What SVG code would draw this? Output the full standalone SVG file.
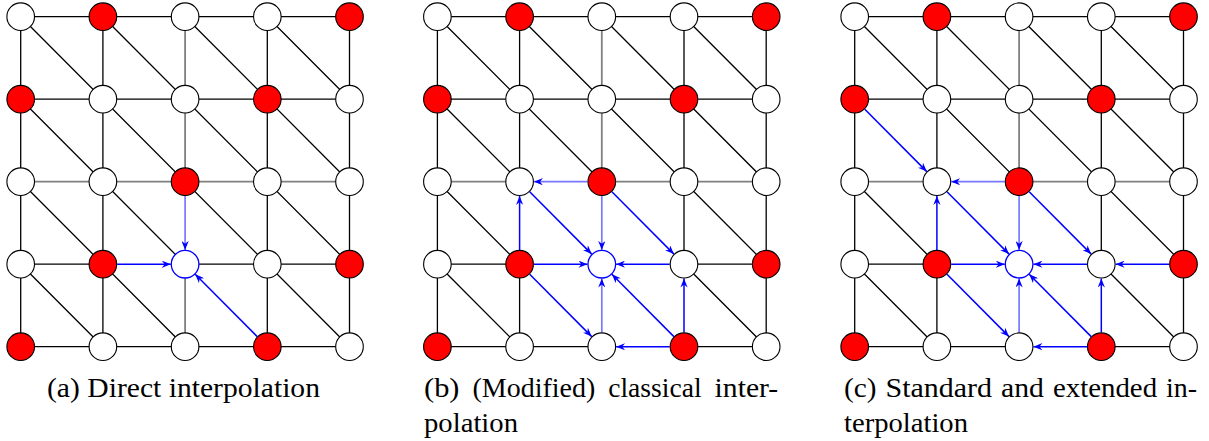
<svg xmlns="http://www.w3.org/2000/svg" width="1209" height="441" viewBox="0 0 1209 441">
<style>
.k{fill:none;stroke:#000;stroke-width:1.3}
.g{fill:none;stroke:#808080;stroke-width:1.8}
.ar{fill:none;stroke:#0000ff;stroke-width:1.5;marker-end:url(#ah)}
.al{fill:none;stroke:#7878ff;stroke-width:1.7;marker-end:url(#ah)}
.w{fill:#fff;stroke:#000;stroke-width:1.1}
.r{fill:#ff0000;stroke:#000;stroke-width:1.1}
.t{fill:#fff;stroke:#0000ff;stroke-width:1.3}
</style>
<defs>
<marker id="ah" viewBox="0 0 10 8" refX="10" refY="4" markerWidth="9.5" markerHeight="7.2" markerUnits="userSpaceOnUse" orient="auto">
<path d="M0,0 L10,4 L0,8 L3.2,4 z" fill="#0000ff"/>
</marker>
</defs>

<!-- Panel A -->
<g id="panelA" transform="translate(20.7,0)">
<g id="connectorsA">
<path class="k" d="M0,16.7H328.8 M0,99.2H328.8 M0,346.7H328.8 M0,264.2H82.2 M164.4,264.2H328.8 M0,16.7V346.7 M82.2,16.7V346.7 M246.6,16.7V346.7 M328.8,16.7V346.7 M0,16.7L328.8,346.7 M82.2,16.7L328.8,264.2 M164.4,16.7L328.8,181.7 M246.6,16.7L328.8,99.2 M0,99.2L164.4,264.2 M0,181.7L164.4,346.7 M0,264.2L82.2,346.7"/>
<path class="g" d="M0,181.7H328.8 M164.4,16.7V181.7 M164.4,264.2V346.7"/>
<line class="al" x1="164.4" y1="196" x2="164.4" y2="249.9"/>
<line class="ar" x1="96.5" y1="264.2" x2="150.1" y2="264.2"/>
<line class="ar" x1="236.5" y1="336.6" x2="174.5" y2="274.3"/>
</g>
<g id="a00"><circle class="w" cx="0" cy="16.7" r="13.8"/></g>
<g id="a01"><circle class="r" cx="82.2" cy="16.7" r="13.8"/></g>
<g id="a02"><circle class="w" cx="164.4" cy="16.7" r="13.8"/></g>
<g id="a03"><circle class="w" cx="246.6" cy="16.7" r="13.8"/></g>
<g id="a04"><circle class="r" cx="328.8" cy="16.7" r="13.8"/></g>
<g id="a10"><circle class="r" cx="0" cy="99.2" r="13.8"/></g>
<g id="a11"><circle class="w" cx="82.2" cy="99.2" r="13.8"/></g>
<g id="a12"><circle class="w" cx="164.4" cy="99.2" r="13.8"/></g>
<g id="a13"><circle class="r" cx="246.6" cy="99.2" r="13.8"/></g>
<g id="a14"><circle class="w" cx="328.8" cy="99.2" r="13.8"/></g>
<g id="a20"><circle class="w" cx="0" cy="181.7" r="13.8"/></g>
<g id="a21"><circle class="w" cx="82.2" cy="181.7" r="13.8"/></g>
<g id="a22"><circle class="r" cx="164.4" cy="181.7" r="13.8"/></g>
<g id="a23"><circle class="w" cx="246.6" cy="181.7" r="13.8"/></g>
<g id="a24"><circle class="w" cx="328.8" cy="181.7" r="13.8"/></g>
<g id="a30"><circle class="w" cx="0" cy="264.2" r="13.8"/></g>
<g id="a31"><circle class="r" cx="82.2" cy="264.2" r="13.8"/></g>
<g id="a32"><circle class="t" cx="164.4" cy="264.2" r="13.8"/></g>
<g id="a33"><circle class="w" cx="246.6" cy="264.2" r="13.8"/></g>
<g id="a34"><circle class="r" cx="328.8" cy="264.2" r="13.8"/></g>
<g id="a40"><circle class="r" cx="0" cy="346.7" r="13.8"/></g>
<g id="a41"><circle class="w" cx="82.2" cy="346.7" r="13.8"/></g>
<g id="a42"><circle class="w" cx="164.4" cy="346.7" r="13.8"/></g>
<g id="a43"><circle class="r" cx="246.6" cy="346.7" r="13.8"/></g>
<g id="a44"><circle class="w" cx="328.8" cy="346.7" r="13.8"/></g>
</g>

<!-- Panel B -->
<g id="panelB" transform="translate(437.4,0)">
<g id="connectorsB">
<path class="k" d="M0,16.7H328.8 M0,99.2H328.8 M0,264.2H82.2 M246.6,264.2H328.8 M0,346.7H164.4 M246.6,346.7H328.8 M0,16.7V346.7 M328.8,16.7V346.7 M82.2,16.7V181.7 M82.2,264.2V346.7 M246.6,16.7V264.2 M0,16.7L164.4,181.7 M246.6,264.2L328.8,346.7 M82.2,16.7L328.8,264.2 M164.4,16.7L328.8,181.7 M246.6,16.7L328.8,99.2 M0,99.2L82.2,181.7 M0,181.7L82.2,264.2 M0,264.2L82.2,346.7"/>
<path class="g" d="M0,181.7H82.2 M164.4,181.7H328.8 M164.4,16.7V181.7"/>
<line class="al" x1="164.4" y1="196" x2="164.4" y2="249.9"/>
<line class="al" x1="150.1" y1="181.7" x2="96.5" y2="181.7"/>
<line class="ar" x1="92.3" y1="191.8" x2="154.3" y2="254.1"/>
<line class="ar" x1="82.2" y1="249.9" x2="82.2" y2="196"/>
<line class="ar" x1="96.5" y1="264.2" x2="150.1" y2="264.2"/>
<line class="ar" x1="92.3" y1="274.3" x2="154.3" y2="336.6"/>
<line class="ar" x1="174.5" y1="191.8" x2="236.5" y2="254.1"/>
<line class="ar" x1="232.3" y1="264.2" x2="178.7" y2="264.2"/>
<line class="ar" x1="246.6" y1="332.4" x2="246.6" y2="278.5"/>
<line class="ar" x1="236.5" y1="336.6" x2="174.5" y2="274.3"/>
<line class="ar" x1="232.3" y1="346.7" x2="178.7" y2="346.7"/>
<line class="al" x1="164.4" y1="332.4" x2="164.4" y2="278.5"/>
</g>
<g id="b00"><circle class="w" cx="0" cy="16.7" r="13.8"/></g>
<g id="b01"><circle class="r" cx="82.2" cy="16.7" r="13.8"/></g>
<g id="b02"><circle class="w" cx="164.4" cy="16.7" r="13.8"/></g>
<g id="b03"><circle class="w" cx="246.6" cy="16.7" r="13.8"/></g>
<g id="b04"><circle class="r" cx="328.8" cy="16.7" r="13.8"/></g>
<g id="b10"><circle class="r" cx="0" cy="99.2" r="13.8"/></g>
<g id="b11"><circle class="w" cx="82.2" cy="99.2" r="13.8"/></g>
<g id="b12"><circle class="w" cx="164.4" cy="99.2" r="13.8"/></g>
<g id="b13"><circle class="r" cx="246.6" cy="99.2" r="13.8"/></g>
<g id="b14"><circle class="w" cx="328.8" cy="99.2" r="13.8"/></g>
<g id="b20"><circle class="w" cx="0" cy="181.7" r="13.8"/></g>
<g id="b21"><circle class="w" cx="82.2" cy="181.7" r="13.8"/></g>
<g id="b22"><circle class="r" cx="164.4" cy="181.7" r="13.8"/></g>
<g id="b23"><circle class="w" cx="246.6" cy="181.7" r="13.8"/></g>
<g id="b24"><circle class="w" cx="328.8" cy="181.7" r="13.8"/></g>
<g id="b30"><circle class="w" cx="0" cy="264.2" r="13.8"/></g>
<g id="b31"><circle class="r" cx="82.2" cy="264.2" r="13.8"/></g>
<g id="b32"><circle class="t" cx="164.4" cy="264.2" r="13.8"/></g>
<g id="b33"><circle class="w" cx="246.6" cy="264.2" r="13.8"/></g>
<g id="b34"><circle class="r" cx="328.8" cy="264.2" r="13.8"/></g>
<g id="b40"><circle class="r" cx="0" cy="346.7" r="13.8"/></g>
<g id="b41"><circle class="w" cx="82.2" cy="346.7" r="13.8"/></g>
<g id="b42"><circle class="w" cx="164.4" cy="346.7" r="13.8"/></g>
<g id="b43"><circle class="r" cx="246.6" cy="346.7" r="13.8"/></g>
<g id="b44"><circle class="w" cx="328.8" cy="346.7" r="13.8"/></g>
</g>

<!-- Panel C -->
<g id="panelC" transform="translate(854.7,0)">
<g id="connectorsC">
<path class="k" d="M0,16.7H328.8 M0,99.2H328.8 M0,264.2H82.2 M0,346.7H164.4 M246.6,346.7H328.8 M0,16.7V346.7 M328.8,16.7V346.7 M82.2,16.7V181.7 M82.2,264.2V346.7 M246.6,16.7V264.2 M0,16.7L164.4,181.7 M246.6,264.2L328.8,346.7 M82.2,16.7L328.8,264.2 M164.4,16.7L328.8,181.7 M246.6,16.7L328.8,99.2 M0,181.7L82.2,264.2 M0,264.2L82.2,346.7"/>
<path class="g" d="M0,181.7H82.2 M164.4,181.7H328.8 M164.4,16.7V181.7"/>
<line class="ar" x1="10.1" y1="109.3" x2="72.1" y2="171.6"/>
<line class="al" x1="164.4" y1="196" x2="164.4" y2="249.9"/>
<line class="al" x1="150.1" y1="181.7" x2="96.5" y2="181.7"/>
<line class="ar" x1="92.3" y1="191.8" x2="154.3" y2="254.1"/>
<line class="ar" x1="82.2" y1="249.9" x2="82.2" y2="196"/>
<line class="ar" x1="96.5" y1="264.2" x2="150.1" y2="264.2"/>
<line class="ar" x1="92.3" y1="274.3" x2="154.3" y2="336.6"/>
<line class="ar" x1="174.5" y1="191.8" x2="236.5" y2="254.1"/>
<line class="ar" x1="232.3" y1="264.2" x2="178.7" y2="264.2"/>
<line class="ar" x1="314.5" y1="264.2" x2="260.9" y2="264.2"/>
<line class="ar" x1="246.6" y1="332.4" x2="246.6" y2="278.5"/>
<line class="ar" x1="236.5" y1="336.6" x2="174.5" y2="274.3"/>
<line class="ar" x1="232.3" y1="346.7" x2="178.7" y2="346.7"/>
<line class="al" x1="164.4" y1="332.4" x2="164.4" y2="278.5"/>
</g>
<g id="c00"><circle class="w" cx="0" cy="16.7" r="13.8"/></g>
<g id="c01"><circle class="r" cx="82.2" cy="16.7" r="13.8"/></g>
<g id="c02"><circle class="w" cx="164.4" cy="16.7" r="13.8"/></g>
<g id="c03"><circle class="w" cx="246.6" cy="16.7" r="13.8"/></g>
<g id="c04"><circle class="r" cx="328.8" cy="16.7" r="13.8"/></g>
<g id="c10"><circle class="r" cx="0" cy="99.2" r="13.8"/></g>
<g id="c11"><circle class="w" cx="82.2" cy="99.2" r="13.8"/></g>
<g id="c12"><circle class="w" cx="164.4" cy="99.2" r="13.8"/></g>
<g id="c13"><circle class="r" cx="246.6" cy="99.2" r="13.8"/></g>
<g id="c14"><circle class="w" cx="328.8" cy="99.2" r="13.8"/></g>
<g id="c20"><circle class="w" cx="0" cy="181.7" r="13.8"/></g>
<g id="c21"><circle class="w" cx="82.2" cy="181.7" r="13.8"/></g>
<g id="c22"><circle class="r" cx="164.4" cy="181.7" r="13.8"/></g>
<g id="c23"><circle class="w" cx="246.6" cy="181.7" r="13.8"/></g>
<g id="c24"><circle class="w" cx="328.8" cy="181.7" r="13.8"/></g>
<g id="c30"><circle class="w" cx="0" cy="264.2" r="13.8"/></g>
<g id="c31"><circle class="r" cx="82.2" cy="264.2" r="13.8"/></g>
<g id="c32"><circle class="t" cx="164.4" cy="264.2" r="13.8"/></g>
<g id="c33"><circle class="w" cx="246.6" cy="264.2" r="13.8"/></g>
<g id="c34"><circle class="r" cx="328.8" cy="264.2" r="13.8"/></g>
<g id="c40"><circle class="r" cx="0" cy="346.7" r="13.8"/></g>
<g id="c41"><circle class="w" cx="82.2" cy="346.7" r="13.8"/></g>
<g id="c42"><circle class="w" cx="164.4" cy="346.7" r="13.8"/></g>
<g id="c43"><circle class="r" cx="246.6" cy="346.7" r="13.8"/></g>
<g id="c44"><circle class="w" cx="328.8" cy="346.7" r="13.8"/></g>
</g>

<!-- Captions -->
<g id="captions" font-family="Liberation Serif" font-size="26.5" fill="#000">
<text x="47" y="397" textLength="273" lengthAdjust="spacingAndGlyphs">(a) Direct interpolation</text>
<text y="397"><tspan x="424" textLength="35.5" lengthAdjust="spacingAndGlyphs">(b)</tspan> <tspan x="472.5" textLength="122.7" lengthAdjust="spacingAndGlyphs">(Modified)</tspan> <tspan x="608.2" textLength="93.4" lengthAdjust="spacingAndGlyphs">classical</tspan> <tspan x="714.6" textLength="63.6" lengthAdjust="spacingAndGlyphs">inter-</tspan></text>
<text x="424" y="431.5" textLength="94" lengthAdjust="spacingAndGlyphs">polation</text>
<text y="397"><tspan x="844" textLength="32.5" lengthAdjust="spacingAndGlyphs">(c)</tspan> <tspan x="885.5" textLength="106.5" lengthAdjust="spacingAndGlyphs">Standard</tspan> <tspan x="1001" textLength="42.9" lengthAdjust="spacingAndGlyphs">and</tspan> <tspan x="1052.9" textLength="104.2" lengthAdjust="spacingAndGlyphs">extended</tspan> <tspan x="1166.1" textLength="31" lengthAdjust="spacingAndGlyphs">in-</tspan></text>
<text x="844" y="431.5" textLength="124" lengthAdjust="spacingAndGlyphs">terpolation</text>
</g>
</svg>
